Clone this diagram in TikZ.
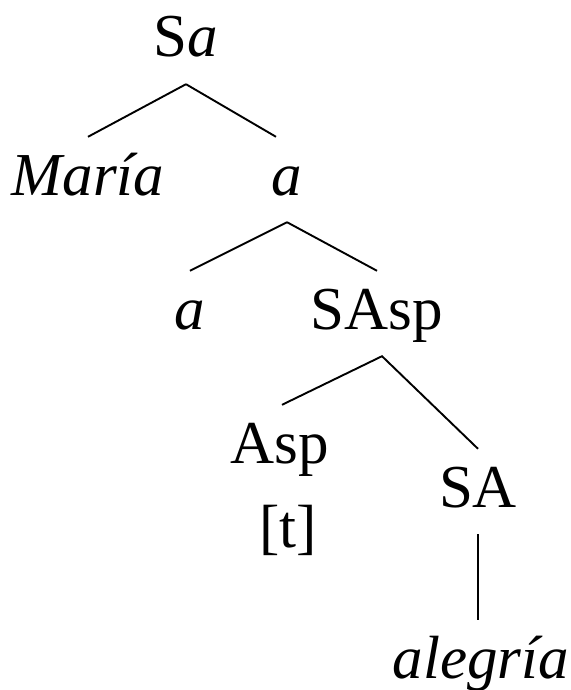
\documentclass[tikz,border=0pt]{standalone}
\usepackage{fontspec}
\setmainfont{Liberation Serif}

\tikzstyle{cat}=[anchor=base,inner sep=0pt,text height=58pt,text depth=27pt,font=\fontsize{61}{67}\selectfont]
\tikzstyle{plain cat}=[anchor=base,inner sep=0pt,font=\fontsize{61}{67}\selectfont]
\tikzstyle{branch}=[draw,line width=1.9pt]

\begin{document}
\begin{tikzpicture}[x=1pt,y=-1pt]
     \useasboundingbox (0,0) rectangle (570,690);
     % the categories of the tree
     \foreach \pos/\name/\txt in {{(186,57)/Sa/{S\textit{a}}}, {(88,195)/Maria/{\textit{María}}},
       {(287,195)/a1/{\textit{a}}}, {(190,329)/a2/{\textit{a}}}, {(377,329)/SAsp/{SAsp}},
       {(280,463)/Asp/{Asp}}, {(478,507)/SA/{SA}}, {(481,678)/alegria/{\textit{alegría}}}}
     \node[cat] (\name) at \pos {\txt};

     \node[plain cat] (trace) at (288,547) {[t]};

     % branches between the categories
     \foreach \source/ \dest in {Sa/Maria, a1/a2, a1/SAsp}
     \path[branch] (\source.south) -- (\dest.north);
     \path[branch] (Sa.south) -- ([xshift=-11pt]a1.north);
     \path[branch] ([xshift=2pt]Asp.north) -- ([xshift=5pt]SAsp.south) -- (SA.north);
     \path[branch] (SA.south) -- (SA.south |- alegria.north);
\end{tikzpicture}
\end{document}
